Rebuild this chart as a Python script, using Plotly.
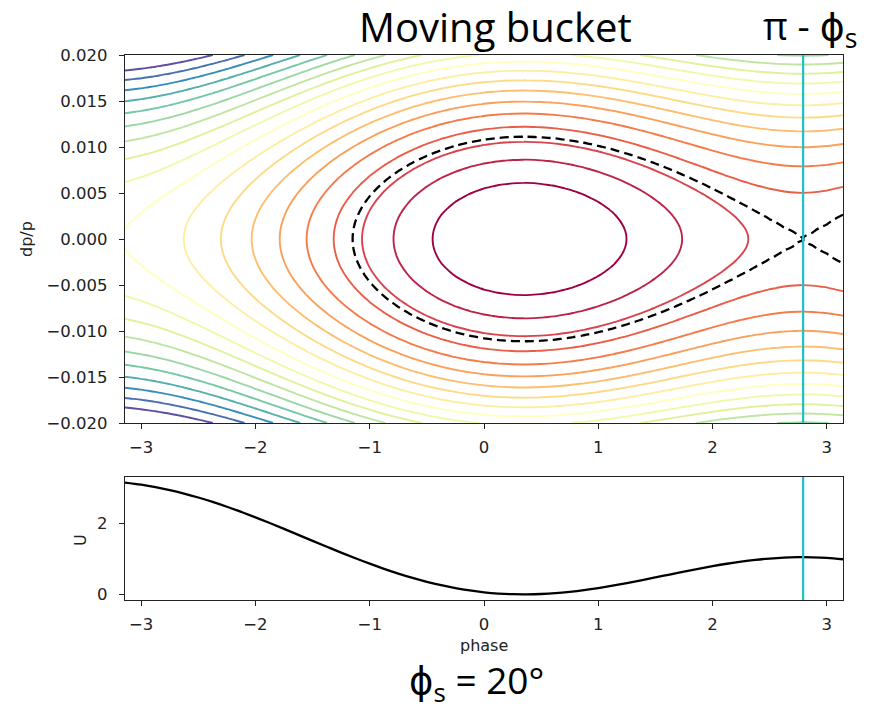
import numpy as np
import plotly.graph_objects as go

# ---- data ----
# phase samples (rad) and potential U
phase = [-3.1416, -3.0, -2.875, -2.75, -2.625, -2.5, -2.375, -2.25, -2.125, -2.0,
         -1.875, -1.75, -1.625, -1.5, -1.375, -1.25, -1.125, -1.0, -0.875, -0.75,
         -0.625, -0.5, -0.375, -0.25, -0.125, 0.0, 0.125, 0.25, 0.349, 0.375,
         0.5, 0.625, 0.75, 0.875, 1.0, 1.125, 1.25, 1.375, 1.5, 1.625,
         1.75, 1.875, 2.0, 2.125, 2.25, 2.375, 2.5, 2.625, 2.75, 2.7925,
         2.875, 3.0, 3.1416]
U = [3.134, 3.075, 3.007, 2.924, 2.826, 2.715, 2.592, 2.457, 2.312, 2.159,
     2.000, 1.836, 1.669, 1.501, 1.335, 1.171, 1.013, 0.861, 0.717, 0.584,
     0.462, 0.353, 0.257, 0.176, 0.110, 0.059, 0.024, 0.005, 0.000, 0.000,
     0.011, 0.034, 0.071, 0.119, 0.177, 0.243, 0.316, 0.394, 0.475, 0.557,
     0.639, 0.717, 0.791, 0.859, 0.918, 0.967, 1.005, 1.031, 1.043, 1.044,
     1.040, 1.023, 0.985]

phi_s_deg = 20
unstable_phase = 2.7925          # pi - phi_s
separatrix_level = 1.044         # U at pi - phi_s
dp_scale = 8450.0                # H = U + dp_scale * dp^2 (from contour heights)
level_start, level_end, level_step = 0.3142, 6.2832, 0.3142

dp_ticks = [-0.020, -0.015, -0.010, -0.005, 0.0, 0.005, 0.010, 0.015, 0.020]
phase_ticks = [-3, -2, -1, 0, 1, 2, 3]
U_ticks = [0, 2]

# grid for the contour table
dp = np.linspace(-0.02, 0.02, 241)
H = [[u + dp_scale * d * d for u in U] for d in dp]

spectral = [[0.0, 'rgb(158,1,66)'], [0.1, 'rgb(213,62,79)'], [0.2, 'rgb(244,109,67)'],
            [0.3, 'rgb(253,174,97)'], [0.4, 'rgb(254,224,139)'], [0.5, 'rgb(255,255,191)'],
            [0.6, 'rgb(230,245,152)'], [0.7, 'rgb(171,221,164)'], [0.8, 'rgb(102,194,165)'],
            [0.9, 'rgb(50,136,189)'], [1.0, 'rgb(94,79,162)']]

fig = go.Figure()
fig.add_trace(go.Contour(
    x=phase, y=dp, z=H, xaxis='x', yaxis='y',
    contours=dict(coloring='lines', start=level_start, end=level_end, size=level_step),
    line=dict(width=1.9, smoothing=1.0),
    colorscale=spectral, zmin=0.0, zmax=level_end, showscale=False, hoverinfo='skip'))
fig.add_trace(go.Contour(
    x=phase, y=dp, z=H, xaxis='x', yaxis='y',
    contours=dict(coloring='none', start=separatrix_level, end=separatrix_level, size=1),
    line=dict(width=2.3, color='black', dash='9px,5px', smoothing=1.0),
    showscale=False, hoverinfo='skip'))
fig.add_trace(go.Scatter(
    x=phase, y=U, xaxis='x2', yaxis='y2', mode='lines',
    line=dict(color='black', width=2.3, shape='spline'), hoverinfo='skip'))

cyan = 'rgb(40,190,195)'
fig.add_shape(type='line', xref='x', yref='y domain', x0=unstable_phase, x1=unstable_phase,
              y0=0, y1=1, line=dict(color=cyan, width=2.3))
fig.add_shape(type='line', xref='x2', yref='y2 domain', x0=unstable_phase, x1=unstable_phase,
              y0=0, y1=1, line=dict(color=cyan, width=2.3))

W, Ht = 876, 714
xdom = [125 / W, 843 / W]
axis_common = dict(showline=True, mirror=True, linecolor='#222', linewidth=1.2,
                   ticks='outside', ticklen=5, tickwidth=1.2, tickcolor='#222',
                   showgrid=False, zeroline=False, automargin=False,
                   tickfont=dict(family='DejaVu Sans', size=16.5, color='#222'))

fig.update_layout(
    template='none',
    width=W, height=Ht, autosize=False,
    margin=dict(l=0, r=0, t=0, b=0, pad=0, autoexpand=False),
    paper_bgcolor='white', plot_bgcolor='white', showlegend=False,
    xaxis=dict(domain=xdom, range=[-np.pi, np.pi], tickvals=phase_ticks, anchor='y',
               ticklabelstandoff=4, **axis_common),
    yaxis=dict(domain=[(Ht - 423) / Ht, (Ht - 55) / Ht], range=[-0.02, 0.02],
               tickvals=dp_ticks, tickformat='.3f', anchor='x', ticklabelstandoff=8, **axis_common),
    xaxis2=dict(domain=xdom, range=[-np.pi, np.pi], tickvals=phase_ticks, anchor='y2',
                ticklabelstandoff=4, **axis_common),
    yaxis2=dict(domain=[(Ht - 600) / Ht, (Ht - 477) / Ht], range=[-0.157, 3.29],
                tickvals=U_ticks, anchor='x2', ticklabelstandoff=8, **axis_common),
)

big = dict(family='Open Sans, DejaVu Sans', size=40, color='black')
big2 = dict(family='Open Sans, DejaVu Sans', size=38, color='black')
big3 = dict(family='Open Sans, DejaVu Sans', size=37, color='black')
lab = dict(family='DejaVu Sans', size=16, color='#222')
annots = [
    dict(text='Moving bucket', x=495 / W, y=1 - 27 / Ht, font=big),
    dict(text='π - ϕ<sub>s</sub>', x=810 / W, y=1 - 28 / Ht, font=big2),
    dict(text=f'ϕ<sub>s</sub> = {phi_s_deg}°', x=476 / W, y=1 - 682 / Ht, font=big3),
    dict(text='phase', x=484 / W, y=1 - 645 / Ht, font=lab),
    dict(text='dp/p', x=27 / W, y=1 - 239 / Ht, font=lab, textangle=-90),
    dict(text='U', x=80 / W, y=1 - 540 / Ht, font=lab, textangle=-90),
]
for a in annots:
    fig.add_annotation(xref='paper', yref='paper', showarrow=False,
                       xanchor='center', yanchor='middle', **a)

fig.write_html('out.html', config={'displayModeBar': False},
               post_script="document.body.style.margin='0';document.body.style.overflow='hidden';")
